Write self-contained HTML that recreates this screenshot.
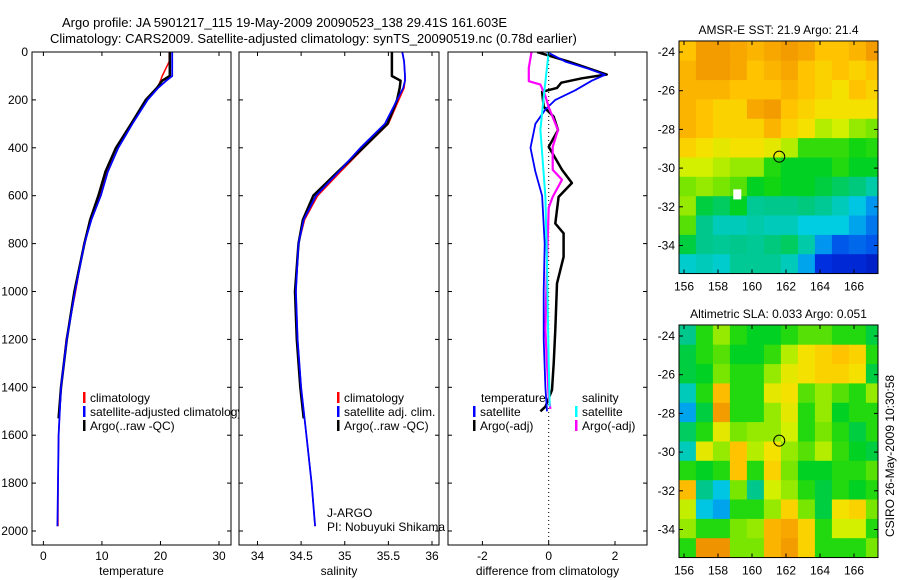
<!DOCTYPE html>
<html><head><meta charset="utf-8">
<style>
html,body{margin:0;padding:0;background:#fff;}
svg{display:block;font-family:"Liberation Sans",sans-serif;}
</style></head>
<body>
<svg id="fig" width="900" height="580" viewBox="0 0 900 580" xmlns="http://www.w3.org/2000/svg">
<text x="62" y="27" font-size="13">Argo profile: JA 5901217_115 19-May-2009 20090523_138 29.41S 161.603E</text>
<text x="50" y="43" font-size="13">Climatology: CARS2009. Satellite-adjusted climatology: synTS_20090519.nc (0.78d earlier)</text>
<g id="g"></g>
</svg>
<script>
// ---- profile data ----
const depthT = [0,40,100,120,150,200,300,400,500,600,700,800,1000,1200,1400,1600,1800,1980];
const tempClim = [21.5,21.5,20.3,20.0,19.5,17.6,15.0,12.4,10.8,9.7,8.2,6.9,5.5,3.9,3.0,2.6,2.5,2.5];
const tempSat = [22.0,22.0,22.0,21.0,19.6,17.8,15.2,12.8,11.0,9.8,8.2,7.0,5.4,4.0,3.0,2.6,2.5,2.4];
const depthA = [0,40,100,120,150,200,300,400,500,600,700,800,1000,1200,1400,1530];
const tempArgo = [21.6,21.6,21.6,20.3,19.4,17.5,15.0,12.4,10.6,9.4,8.0,7.0,5.3,4.0,3.0,2.6];
const salClim = [35.66,35.68,35.69,35.69,35.68,35.62,35.50,35.22,34.95,34.69,34.54,34.47,34.44,34.46,34.50,34.56,34.62,34.66];
const salSat = [35.66,35.68,35.69,35.69,35.67,35.60,35.46,35.18,34.93,34.67,34.53,34.47,34.44,34.46,34.50,34.56,34.62,34.66];
const salArgo = [35.54,35.54,35.54,35.64,35.63,35.60,35.49,35.21,34.92,34.64,34.52,34.47,34.43,34.45,34.49,34.53];
// ---- difference data ----
const depthDT = [0,40,70,95,120,160,200,240,300,400,500,600,800,1000,1200,1400,1500];
const diffTSat = [-0.05,0.5,1.2,1.7,1.3,0.8,0.2,-0.1,-0.4,-0.55,-0.4,-0.2,-0.12,-0.15,-0.15,-0.1,-0.05];
const depthDA = [0,40,94,110,128,150,166,229,270,326,396,492,547,605,716,757,855,966,1160,1300,1411,1481,1500];
const diffTArgo = [-0.35,0.6,1.75,1.0,0.38,0.25,-0.2,-0.15,0.15,0.28,0.0,0.4,0.7,0.3,0.2,0.45,0.45,0.25,0.2,0.15,0.1,-0.1,-0.25];
const depthDS = [0,66,122,136,184,230,326,396,492,533,605,650,883,1160,1300,1439,1490];
const diffSArgo = [-0.52,-0.6,-0.6,-0.25,-0.1,0.0,0.28,0.12,0.12,0.4,0.12,0.0,-0.05,-0.1,-0.05,0.0,0.05];
const depthDC = [0,188,326,605,883,1300,1480];
const diffSSat = [0.0,-0.15,-0.25,-0.1,-0.05,0.0,0.03];
// ---- axis ticks ----
const depthTicks = [0,200,400,600,800,1000,1200,1400,1600,1800,2000];
const tempTicks = [0,10,20,30];
const salTicks = [34,34.5,35,35.5,36];
const diffTicks = [-2,0,2];
const lonTicks = [156,158,160,162,164,166];
const latTicks = [-24,-26,-28,-30,-32,-34];
// ---- map grids (colormap index 0..1), rows lat -24..-35, cols lon 156..167 ----
const sstGrid = [
[.74,.80,.80,.78,.76,.78,.80,.78,.74,.74,.76,.80],
[.76,.80,.80,.78,.74,.76,.78,.74,.72,.74,.72,.74],
[.76,.76,.76,.74,.74,.74,.76,.74,.72,.70,.74,.72],
[.76,.74,.72,.72,.78,.80,.74,.72,.70,.70,.70,.70],
[.76,.74,.72,.72,.72,.76,.72,.70,.64,.66,.62,.60],
[.72,.70,.68,.70,.70,.68,.64,.56,.56,.56,.54,.55],
[.66,.66,.64,.62,.62,.55,.52,.52,.52,.55,.52,.52],
[.60,.62,.60,.58,.52,.54,.52,.52,.50,.48,.46,.42],
[.62,.50,.48,.52,.44,.45,.45,.46,.44,.40,.35,.28],
[.58,.45,.40,.40,.42,.40,.40,.36,.36,.36,.30,.24],
[.50,.45,.44,.45,.44,.46,.48,.42,.28,.20,.22,.20],
[.38,.40,.38,.44,.44,.44,.40,.30,.14,.12,.12,.10]];
const slaGrid = [
[.45,.55,.62,.55,.52,.52,.55,.58,.58,.55,.55,.50],
[.50,.55,.58,.52,.52,.56,.64,.70,.72,.74,.72,.55],
[.50,.52,.60,.55,.55,.62,.68,.70,.72,.72,.70,.50],
[.40,.55,.75,.55,.55,.68,.70,.58,.62,.58,.55,.62],
[.30,.50,.80,.55,.55,.62,.68,.55,.62,.52,.55,.55],
[.48,.55,.68,.60,.62,.62,.66,.55,.60,.55,.50,.55],
[.40,.68,.62,.74,.64,.70,.62,.58,.64,.56,.52,.50],
[.55,.52,.55,.74,.55,.72,.60,.52,.52,.55,.55,.58],
[.75,.45,.35,.60,.45,.66,.62,.55,.50,.55,.52,.55],
[.65,.35,.30,.55,.55,.62,.72,.60,.50,.70,.72,.60],
[.62,.55,.55,.60,.62,.76,.78,.72,.55,.66,.66,.55],
[.55,.82,.82,.60,.60,.76,.80,.72,.55,.55,.55,.60]];
const gridLon0 = 155.7, gridLat0 = -23.45;
const floatLon = 161.603, floatLat = -29.41;

const NS = "http://www.w3.org/2000/svg";
const G = document.getElementById('g');
function mk(tag, attrs, parent){
  const e = document.createElementNS(NS, tag);
  for (const k in attrs) e.setAttribute(k, attrs[k]);
  (parent||G).appendChild(e);
  return e;
}
function lin(d0,d1,r0,r1){ return v => r0 + (v-d0)*(r1-r0)/(d1-d0); }

const yD = lin(0,2000,52,531);
const panels = [
  {x0:32,x1:231,sx:lin(0,30,43.4,219),ticks:tempTicks,title:'temperature',name:'temperature-panel'},
  {x0:239,x1:439,sx:lin(34,36,257.5,432),ticks:salTicks,title:'salinity',name:'salinity-panel'},
  {x0:448,x1:647,sx:lin(0,2,548.7,615),ticks:diffTicks,title:'difference from climatology',name:'difference-panel'}
];
const Y0=52, Y1=545;

function line(xs, ys, sx, color, w, name, parent){
  let d = '';
  for (let i=0;i<xs.length;i++) d += (i?'L':'M') + sx(xs[i]).toFixed(1) + ' ' + yD(ys[i]).toFixed(1);
  const p = mk('path',{d:d,fill:'none',stroke:color,'stroke-width':w,'stroke-linejoin':'round'},parent);
  
  
  return p;
}
function legend(x, y, color, label, name, parent){
  const g = mk('g',{},parent);
  
  
  mk('rect',{x:x,y:y-10,width:2.5,height:11,fill:color},g);
  const t = mk('text',{x:x+7,y:y,'font-size':12},g);
  t.textContent = label;
}

panels.forEach((P, pi) => {
  const g = mk('g',{});
  
  
  const clipId = 'clip'+pi;
  const cp = mk('clipPath',{id:clipId},g);
  mk('rect',{x:P.x0,y:Y0,width:P.x1-P.x0,height:Y1-Y0},cp);
  mk('rect',{x:P.x0,y:Y0,width:P.x1-P.x0,height:Y1-Y0,fill:'#fff'},g);
  const inner = mk('g',{'clip-path':'url(#'+clipId+')'},g);
  if (pi===0){
    line(tempClim, depthT, P.sx, '#f00', 1.5, 'temperature-climatology-line', inner);
    line(tempArgo, depthA, P.sx, '#000', 2.5, 'temperature-argo-line', inner);
    line(tempSat, depthT, P.sx, '#00f', 1.8, 'temperature-satellite-line', inner);
  } else if (pi===1){
    line(salClim, depthT, P.sx, '#f00', 1.5, 'salinity-climatology-line', inner);
    line(salArgo, depthA, P.sx, '#000', 2.5, 'salinity-argo-line', inner);
    line(salSat, depthT, P.sx, '#00f', 1.8, 'salinity-satellite-line', inner);
  } else {
    mk('line',{x1:P.sx(0),x2:P.sx(0),y1:Y0,y2:Y1,stroke:'#000','stroke-width':1,'stroke-dasharray':'1 3'},inner);
    line(diffTArgo, depthDA, P.sx, '#000', 2.5, 'temperature-diff-argo-line', inner);
    line(diffTSat, depthDT, P.sx, '#00f', 1.8, 'temperature-diff-satellite-line', inner);
    line(diffSArgo, depthDS, P.sx, '#f0f', 2.2, 'salinity-diff-argo-line', inner);
    line(diffSSat, depthDC, P.sx, '#0ff', 2, 'salinity-diff-satellite-line', inner);
  }
  if (pi===0){
    legend(83,402,'#f00','climatology','legend-climatology',g);
    legend(83,416,'#00f','satellite-adjusted climatology','legend-satellite-adjusted',g);
    legend(83,430,'#000','Argo(..raw -QC)','legend-argo-raw',g);
  } else if (pi===1){
    legend(337,402,'#f00','climatology','legend-climatology-sal',g);
    legend(337,416,'#00f','satellite adj. clim.','legend-satellite-adj-sal',g);
    legend(337,430,'#000','Argo(..raw -QC)','legend-argo-raw-sal',g);
    const t1 = mk('text',{x:327,y:517,'font-size':12},g); t1.textContent='J-ARGO';
     
    const t2 = mk('text',{x:327,y:531,'font-size':12},g); t2.textContent='PI: Nobuyuki Shikama';
     
  } else {
    const t = mk('text',{x:481,y:402,'font-size':12},g); t.textContent='temperature';
     
    const s = mk('text',{x:582,y:402,'font-size':12},g); s.textContent='salinity';
     
    legend(473,416,'#00f','satellite','legend-temp-satellite',g);
    legend(473,430,'#000','Argo(-adj)','legend-temp-argo',g);
    legend(575,416,'#0ff','satellite','legend-sal-satellite',g);
    legend(575,430,'#f0f','Argo(-adj)','legend-sal-argo',g);
  }
  mk('rect',{x:P.x0,y:Y0,width:P.x1-P.x0,height:Y1-Y0,fill:'none',stroke:'#000','stroke-width':1},g);
  P.ticks.forEach(v => {
    const x = P.sx(v);
    mk('line',{x1:x,x2:x,y1:Y1,y2:Y1-4,stroke:'#000'},g);
    mk('line',{x1:x,x2:x,y1:Y0,y2:Y0+4,stroke:'#000'},g);
    const t = mk('text',{x:x,y:560,'font-size':12,'text-anchor':'middle'},g);
    t.textContent = v;
     
  });
  depthTicks.forEach(v => {
    const y = yD(v);
    mk('line',{x1:P.x0,x2:P.x0+4,y1:y,y2:y,stroke:'#000'},g);
    mk('line',{x1:P.x1,x2:P.x1-4,y1:y,y2:y,stroke:'#000'},g);
    if (pi===0){
      const t = mk('text',{x:28,y:y+4,'font-size':12,'text-anchor':'end'},g);
      t.textContent = v;
       
    }
  });
  const tt = mk('text',{x:(P.x0+P.x1)/2,y:575,'font-size':12,'text-anchor':'middle'},g);
  tt.textContent = P.title;
   
});

// custom colormap stops (index, r, g, b)
const cmapStops = [
  [0.00,0,0,140],[0.15,0,50,230],[0.28,0,150,240],[0.36,0,205,225],
  [0.45,0,200,140],[0.53,0,210,20],[0.60,120,230,0],[0.66,210,240,0],
  [0.70,245,225,0],[0.74,255,195,0],[0.79,245,160,0],[0.86,230,130,0],[1.00,200,80,0]];
function cmap(v){
  for (let i=1;i<cmapStops.length;i++){
    const a = cmapStops[i-1], b = cmapStops[i];
    if (v <= b[0] || i===cmapStops.length-1){
      const t = Math.max(0,Math.min(1,(v-a[0])/(b[0]-a[0])));
      return 'rgb('+Math.round(a[1]+(b[1]-a[1])*t)+','+Math.round(a[2]+(b[2]-a[2])*t)+','+Math.round(a[3]+(b[3]-a[3])*t)+')';
    }
  }
}
function drawMap(M){
  const g = mk('g',{});
  
  
  const sx = lin(156,166,684,854);
  const sy = lin(-24,-34,M.yTop,M.yTop+193.5);
  const x0=679, x1=878, y0=sy(-23.43), y1=sy(-35.45);
  const cid = 'clip'+M.name;
  const cp = mk('clipPath',{id:cid},g);
  mk('rect',{x:x0,y:y0,width:x1-x0,height:y1-y0},cp);
  const cells = mk('g',{'clip-path':'url(#'+cid+')'},g);
  M.grid.forEach((row, ri) => {
    row.forEach((v, ci) => {
      const xa = sx(gridLon0+ci), xb = sx(gridLon0+ci+1);
      const ya = sy(gridLat0-ri), yb = sy(gridLat0-ri-1);
      const r = mk('rect',{x:xa.toFixed(1),y:ya.toFixed(1),width:(xb-xa+0.6).toFixed(1),height:(yb-ya+0.6).toFixed(1),fill:cmap(v)},cells);
      
      
    });
  });
  if (M.patch) mk('rect',{x:sx(158.9),y:sy(-31.1),width:8,height:10,fill:'#fff'},cells);
  const c = mk('circle',{cx:sx(floatLon),cy:sy(floatLat),r:5.5,fill:'none',stroke:'#000','stroke-width':1},g);
  
  
  mk('rect',{x:x0,y:y0,width:x1-x0,height:y1-y0,fill:'none',stroke:'#000'},g);
  lonTicks.forEach(v => {
    const x = sx(v);
    mk('line',{x1:x,x2:x,y1:y1,y2:y1-4,stroke:'#000'},g);
    mk('line',{x1:x,x2:x,y1:y0,y2:y0+4,stroke:'#000'},g);
    const t = mk('text',{x:x,y:y1+17,'font-size':12,'text-anchor':'middle'},g);
    t.textContent = v;
     
  });
  latTicks.forEach(v => {
    const y = sy(v);
    mk('line',{x1:x0,x2:x0+4,y1:y,y2:y,stroke:'#000'},g);
    mk('line',{x1:x1,x2:x1-4,y1:y,y2:y,stroke:'#000'},g);
    const t = mk('text',{x:675,y:y+4,'font-size':12,'text-anchor':'end'},g);
    t.textContent = v;
     
  });
  const t = mk('text',{x:(x0+x1)/2,y:y0-7,'font-size':12,'text-anchor':'middle'},g);
  t.textContent = M.title;
   
}
drawMap({name:'sst-map',grid:sstGrid,yTop:52,title:'AMSR-E SST: 21.9 Argo: 21.4',patch:true});
drawMap({name:'sla-map',grid:slaGrid,yTop:336,title:'Altimetric SLA: 0.033 Argo: 0.051',patch:false});

const cs = mk('text',{x:0,y:0,'font-size':12,'text-anchor':'middle',transform:'translate(894,456) rotate(-90)'});
cs.textContent = 'CSIRO 26-May-2009 10:30:58';


</script>
</body></html>
